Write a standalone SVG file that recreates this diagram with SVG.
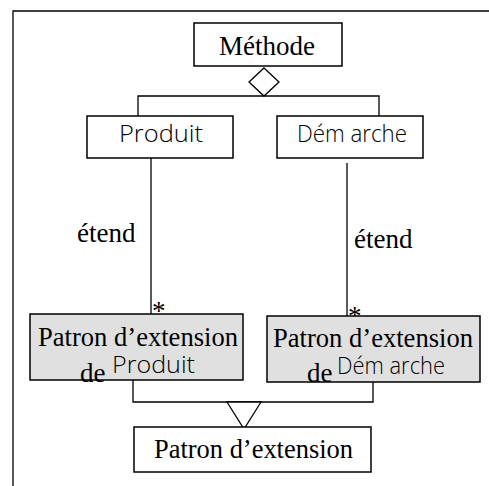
<svg xmlns="http://www.w3.org/2000/svg" width="489" height="486" viewBox="0 0 489 486">
<style>
.box{fill:#fff;stroke:#000;stroke-width:1.5}
.gbox{fill:#e0e0e0;stroke:#000;stroke-width:1.5}
.ln{fill:none;stroke:#000;stroke-width:1.3}
.serif{font-family:"Liberation Serif","Times New Roman",serif;font-size:27px;fill:#000}
.hand{font-family:"Open Sans","Lato",sans-serif;font-weight:300;font-size:23px;fill:#000}
</style>
<rect x="0" y="0" width="489" height="486" fill="#fff"/>
<path class="ln" d="M13,486 V11 H489"/>
<g id="connectors">
<polygon points="264,68 279,82 264,96 249,82" fill="#fff" stroke="#000" stroke-width="1.3"/>
<path class="ln" d="M138,116 V96 H379 V116"/>
<path class="ln" d="M151,158 V315"/>
<path class="ln" d="M347,163 V317"/>
<text class="serif" x="77" y="242">étend</text>
<text class="serif" x="354" y="248">étend</text>
<text class="serif" x="152" y="320" font-size="25">*</text>
<text class="serif" x="348" y="325" font-size="25">*</text>
<path class="ln" d="M133,380 V402 H373 V382"/>
<polygon points="227,402 261,402 244,429" fill="#fff" stroke="#000" stroke-width="1.3"/>
</g>
<g id="methode">
<rect class="box" x="194" y="23" width="148" height="43"/>
<text class="serif" x="267" y="55" text-anchor="middle">Méthode</text>
</g>
<g id="produit">
<rect class="box" x="87" y="116" width="146" height="42"/>
<text class="hand" x="119" y="142" textLength="84" lengthAdjust="spacingAndGlyphs">Produit</text>
</g>
<g id="demarche">
<rect class="box" x="277" y="116" width="146" height="42"/>
<text class="hand" x="297" y="142" textLength="110" lengthAdjust="spacingAndGlyphs">Dém arche</text>
</g>
<g id="patron-produit">
<rect class="gbox" x="30" y="314" width="213" height="66"/>
<text class="serif" x="38" y="346" textLength="200" lengthAdjust="spacingAndGlyphs">Patron d’extension</text>
<text class="serif" x="80" y="382">de</text>
<text class="hand" x="112" y="373" textLength="83" lengthAdjust="spacingAndGlyphs">Produit</text>
</g>
<g id="patron-demarche">
<rect class="gbox" x="267" y="316" width="213" height="66"/>
<text class="serif" x="273" y="347" textLength="200" lengthAdjust="spacingAndGlyphs">Patron d’extension</text>
<text class="serif" x="307" y="382">de</text>
<text class="hand" x="337" y="374" textLength="108" lengthAdjust="spacingAndGlyphs">Dém arche</text>
</g>
<g id="patron">
<rect class="box" x="134" y="427" width="237" height="45"/>
<text class="serif" x="154" y="458" textLength="199" lengthAdjust="spacingAndGlyphs">Patron d’extension</text>
</g>
</svg>
